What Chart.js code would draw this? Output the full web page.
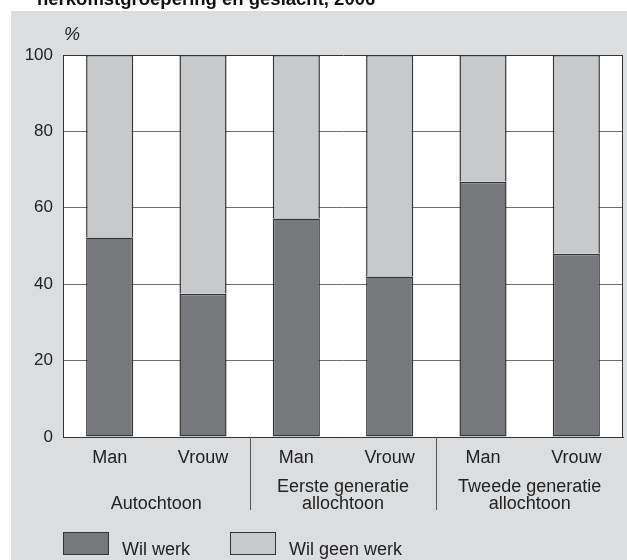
<!DOCTYPE html>
<html>
<head>
<meta charset="utf-8">
<script src="https://cdn.jsdelivr.net/npm/chart.js@4"></script>
<style>
  body { margin: 0; background: #fff; }
  canvas { display: block; }
</style>
</head>
<body>
<canvas id="myChart" width="627" height="560"></canvas>
<script>
// data
const categories = ["Man", "Vrouw", "Man", "Vrouw", "Man", "Vrouw"];
const groups = [["Autochtoon"], ["Eerste generatie", "allochtoon"], ["Tweede generatie", "allochtoon"]];
const wilWerk = [52.2, 37.5, 57.2, 42.0, 66.8, 48.0];
const wilGeenWerk = [47.8, 62.5, 42.8, 58.0, 33.2, 52.0];
const seriesNames = ["Wil werk", "Wil geen werk"];
const yTicks = [0, 20, 40, 60, 80, 100];

const FONT = "'Liberation Sans', Arial, Helvetica, sans-serif";
const darkFill = "#77787b";
const lightFill = "#c8c9cb";
const edge = "#333333";
const panel = "#dcdddf";

Chart.defaults.font.family = FONT;
Chart.defaults.color = "#222";

const backdrop = {
  id: "backdrop",
  beforeDraw(chart) {
    const ctx = chart.ctx;
    const a = chart.chartArea;
    ctx.save();
    ctx.fillStyle = "#fff";
    ctx.fillRect(0, 0, chart.width, chart.height);
    ctx.fillStyle = panel;
    ctx.fillRect(11, 11, chart.width - 11, chart.height - 11);
    ctx.fillStyle = "#fff";
    ctx.fillRect(a.left, a.top, a.right - a.left, a.bottom - a.top);
    // title, cut off at the top edge
    ctx.fillStyle = "#111";
    ctx.font = "bold 18.5px " + FONT;
    ctx.textAlign = "left";
    ctx.textBaseline = "alphabetic";
    ctx.fillText("herkomstgroepering en geslacht, 2006", 37, 5);
    ctx.restore();
  },
  afterDraw(chart) {
    const ctx = chart.ctx;
    const a = chart.chartArea;
    const x = chart.scales.x;
    ctx.save();
    // frame right side
    ctx.strokeStyle = edge;
    ctx.lineWidth = 1;
    ctx.beginPath();
    ctx.moveTo(a.right - 0.5, a.top);
    ctx.lineTo(a.right - 0.5, a.bottom);
    ctx.stroke();

    // "%" unit label
    ctx.fillStyle = "#222";
    ctx.font = "italic 18px " + FONT;
    ctx.textAlign = "left";
    ctx.textBaseline = "alphabetic";
    ctx.fillText("%", 64, 40);

    // group labels and separators
    ctx.font = "18px " + FONT;
    ctx.textAlign = "center";
    const step = x.getPixelForValue(1) - x.getPixelForValue(0);
    groups.forEach((g, i) => {
      const cx = (x.getPixelForValue(i * 2) + x.getPixelForValue(i * 2 + 1)) / 2;
      g.forEach((line, j) => {
        ctx.fillText(line, cx, 509 - (g.length - 1 - j) * 17.5);
      });
      if (i > 0) {
        const sx = Math.round(x.getPixelForValue(i * 2) - step / 2) + 0.5;
        ctx.strokeStyle = "#555";
        ctx.beginPath();
        ctx.moveTo(sx, a.bottom);
        ctx.lineTo(sx, 510);
        ctx.stroke();
      }
    });

    // legend
    const items = chart.data.datasets.map((d) => ({ text: d.label, fill: d.backgroundColor }));
    const spots = [63, 230];
    ctx.textAlign = "left";
    items.forEach((it, i) => {
      const bx = spots[i];
      ctx.fillStyle = it.fill;
      ctx.fillRect(bx, 532, 46, 23);
      ctx.strokeStyle = edge;
      ctx.strokeRect(bx + 0.5, 532.5, 45, 22);
      ctx.fillStyle = "#222";
      ctx.fillText(it.text, bx + 59, 555);
    });
    ctx.restore();
  }
};

const ctx = document.getElementById("myChart").getContext("2d");
const myChart = new Chart(ctx, {
  type: "bar",
  data: {
    labels: categories,
    datasets: [
      {
        label: seriesNames[0],
        data: wilWerk,
        backgroundColor: darkFill,
        borderColor: edge,
        borderWidth: 1.5,
        borderSkipped: false,
        categoryPercentage: 1,
        barPercentage: 0.505,
      },
      {
        label: seriesNames[1],
        data: wilGeenWerk,
        backgroundColor: lightFill,
        borderColor: edge,
        borderWidth: 1.5,
        borderSkipped: "start",
        categoryPercentage: 1,
        barPercentage: 0.505,
      },
    ],
  },
  options: {
    responsive: false,
    animation: false,
    layout: { padding: { left: 0, right: 4, top: 55, bottom: 0 } },
    plugins: {
      legend: { display: false },
      title: { display: false },
      tooltip: { enabled: false },
    },
    scales: {
      x: {
        stacked: true,
        afterFit(scale) { scale.height = 123; },
        grid: { display: false, drawTicks: false },
        border: { display: true, color: edge, width: 1 },
        ticks: { padding: 10, font: { size: 18 }, color: "#222" },
      },
      y: {
        stacked: true,
        min: 0,
        max: 100,
        afterFit(scale) { scale.width = 63; },
        afterBuildTicks(scale) { scale.ticks = yTicks.map((v) => ({ value: v })); },
        grid: {
          color: (c) => (c.tick && c.tick.value === 100 ? edge : "#6e6e6e"),
          lineWidth: 1,
          drawTicks: false,
        },
        border: { display: true, color: edge, width: 1 },
        ticks: { padding: 10, font: { size: 17 }, color: "#222" },
      },
    },
  },
  plugins: [backdrop],
});
</script>
</body>
</html>
